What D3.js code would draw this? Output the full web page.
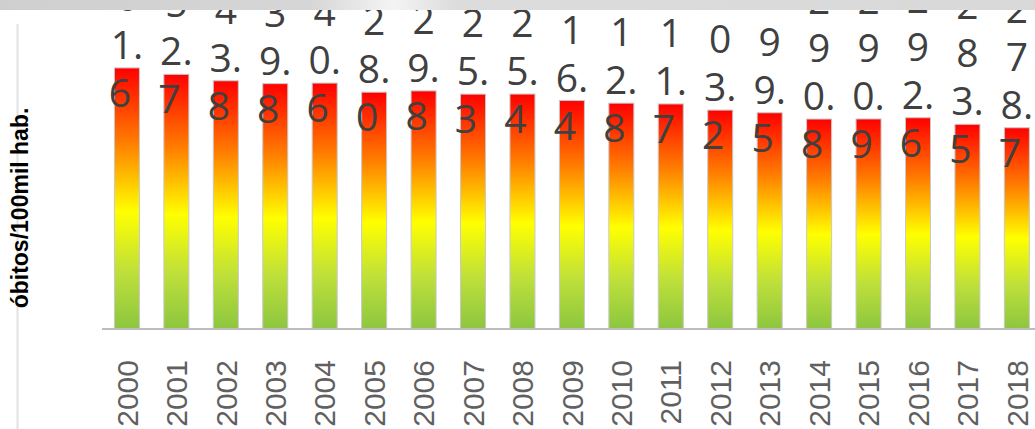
<!DOCTYPE html>
<html>
<head>
<meta charset="utf-8">
<script src="https://cdn.jsdelivr.net/npm/d3@7"></script>
<style>
  html, body { margin: 0; padding: 0; background: #fff; }
  svg { display: block; }
</style>
</head>
<body>
<svg id="chart" width="1035" height="429"></svg>
<script>
const years = ["2000","2001","2002","2003","2004","2005","2006","2007","2008","2009",
               "2010","2011","2012","2013","2014","2015","2016","2017","2018"];
const values = [361.6, 352.7, 343.8, 339.8, 340.6, 328.0, 329.8, 325.3, 325.4, 316.4,
                312.8, 311.7, 303.2, 299.5, 290.8, 290.9, 292.6, 283.5, 278.7];
const yTitle = "óbitos/100mil hab.";

const W = 1035, H = 429;
const svg = d3.select("#chart");

// gradients
const defs = svg.append("defs");
const bg = defs.append("linearGradient").attr("id", "barGrad")
  .attr("x1", 0).attr("y1", 0).attr("x2", 0).attr("y2", 1);
[[0, "#ff0000"], [0.28, "#ff7a00"], [0.55, "#ffff00"], [0.78, "#bfe03a"], [1, "#8cc63f"]]
  .forEach(([o, c]) => bg.append("stop").attr("offset", o).attr("stop-color", c));

const topGrad = defs.append("linearGradient").attr("id", "topGrad")
  .attr("x1", 0).attr("y1", 0).attr("x2", 1).attr("y2", 0);
[[0, "#cfcfcf"], [0.3, "#d6d6d6"], [0.38, "#f4f4f4"], [0.44, "#dcdcdc"], [1, "#d9d9d9"]]
  .forEach(([o, c]) => topGrad.append("stop").attr("offset", o).attr("stop-color", c));

// scales
const x = d3.scaleBand().domain(years).range([90, 1053.8]).padding(0.494);
const y = d3.scaleLinear().domain([0, 400]).range([329, 40.2]);

// left decorative line
svg.append("line").attr("x1", 17.5).attr("x2", 17.5).attr("y1", 24).attr("y2", H)
  .attr("stroke", "#e2e2e2").attr("stroke-width", 2);

// y title
svg.append("text")
  .attr("transform", `translate(27.5,208) rotate(-90)`)
  .attr("text-anchor", "middle")
  .attr("font-family", "Liberation Sans, Arial, sans-serif")
  .attr("font-weight", "bold")
  .attr("font-size", 23)
  .attr("fill", "#000")
  .text(yTitle);

// bars
svg.append("g").selectAll("rect").data(years).join("rect")
  .attr("x", d => x(d))
  .attr("width", x.bandwidth())
  .attr("y", (d, i) => y(values[i]))
  .attr("height", (d, i) => y(0) - y(values[i]))
  .attr("fill", "url(#barGrad)")
  .attr("stroke", "#c8c8c8")
  .attr("stroke-width", 1);

// x axis
const xAxis = svg.append("g").attr("transform", `translate(0,${y(0)})`)
  .call(d3.axisBottom(x).tickSize(0).tickPadding(0));
xAxis.select(".domain").attr("d", `M102,0H${W}`).attr("stroke", "#bdbdbd").attr("stroke-width", 2);
xAxis.selectAll(".tick text")
  .attr("font-family", "Liberation Sans, Arial, sans-serif")
  .attr("font-size", 30)
  .attr("fill", "#606060")
  .attr("text-anchor", "end")
  .attr("dy", null)
  .attr("transform", "translate(10.7,31) rotate(-90)")
  .attr("x", 0).attr("y", 0);

// value labels (wrapped, one char per line, digit+"." kept together)
function splitLines(s) {
  const out = [];
  for (let i = 0; i < s.length; i++) {
    if (s[i + 1] === ".") { out.push(s[i] + "."); i++; }
    else out.push(s[i]);
  }
  return out;
}
const lab = svg.append("g")
  .attr("font-family", "Open Sans, sans-serif")
  .attr("font-size", 39)
  .attr("fill", "#404040")
  .attr("text-anchor", "middle");
years.forEach((yr, i) => {
  const lines = splitLines(values[i].toFixed(1));
  const cx = x(yr) + x.bandwidth() / 2;
  const base = y(values[i]) + 39;
  const n = lines.length;
  lines.forEach((ln, j) => {
    const off = j === n - 1 ? -7 : 0;
    lab.append("text")
      .attr("x", cx + off)
      .attr("y", base - (n - 1 - j) * 48)
      .text(ln);
  });
});

// top grey band
svg.append("rect").attr("x", 0).attr("y", 0).attr("width", W).attr("height", 10)
  .attr("fill", "url(#topGrad)");
</script>
</body>
</html>
